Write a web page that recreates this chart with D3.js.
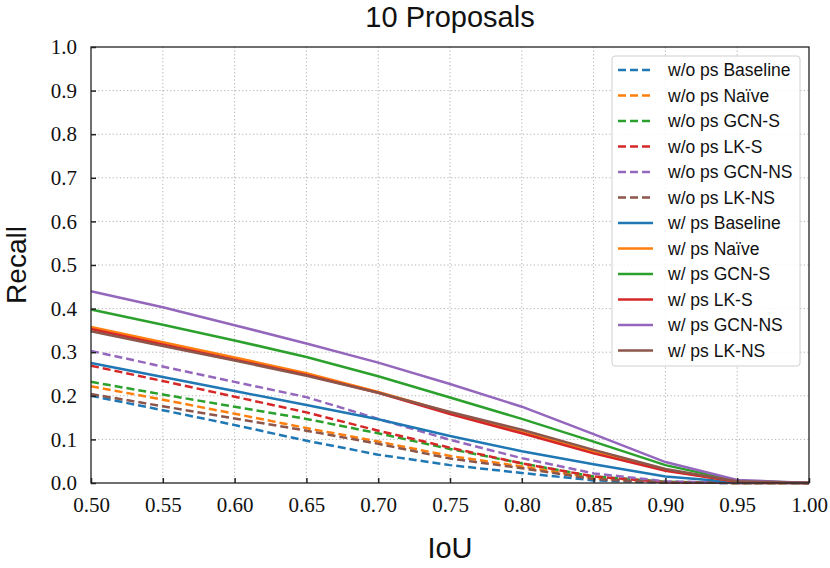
<!DOCTYPE html>
<html>
<head>
<meta charset="utf-8">
<script src="https://cdn.jsdelivr.net/npm/d3@7"></script>
<style>
  body { margin: 0; background: #fff; }
  svg { display: block; }
</style>
</head>
<body>
<div id="chart"></div>
<script>
// IoU thresholds
var iou = [0.50, 0.55, 0.60, 0.65, 0.70, 0.75, 0.80, 0.85, 0.90, 0.95, 1.00];

// recall without proposal scoring (dashed)
var woBaseline = [0.200, 0.167, 0.133, 0.097, 0.065, 0.041, 0.023, 0.006, 0.001, 0, 0];
var woNaive    = [0.222, 0.191, 0.159, 0.126, 0.095, 0.062, 0.038, 0.011, 0.002, 0, 0];
var woGcnS     = [0.232, 0.203, 0.175, 0.147, 0.114, 0.078, 0.045, 0.015, 0.003, 0, 0];
var woLkS      = [0.269, 0.234, 0.198, 0.162, 0.120, 0.081, 0.045, 0.015, 0.002, 0, 0];
var woGcnNS    = [0.303, 0.267, 0.232, 0.197, 0.147, 0.099, 0.057, 0.022, 0.004, 0, 0];
var woLkNS     = [0.204, 0.176, 0.148, 0.120, 0.090, 0.056, 0.034, 0.009, 0.001, 0, 0];

// recall with proposal scoring (solid)
var wBaseline = [0.275, 0.243, 0.211, 0.179, 0.146, 0.108, 0.073, 0.043, 0.015, 0.002, 0];
var wNaive    = [0.358, 0.323, 0.288, 0.252, 0.209, 0.162, 0.117, 0.072, 0.030, 0.003, 0];
var wGcnS     = [0.398, 0.363, 0.327, 0.289, 0.245, 0.196, 0.147, 0.095, 0.041, 0.005, 0];
var wLkS      = [0.353, 0.318, 0.283, 0.248, 0.207, 0.158, 0.114, 0.068, 0.028, 0.003, 0];
var wGcnNS    = [0.440, 0.403, 0.362, 0.320, 0.276, 0.227, 0.175, 0.112, 0.048, 0.007, 0];
var wLkNS     = [0.348, 0.314, 0.281, 0.246, 0.207, 0.163, 0.122, 0.076, 0.032, 0.004, 0];

var xTicks = [0.50, 0.55, 0.60, 0.65, 0.70, 0.75, 0.80, 0.85, 0.90, 0.95, 1.00];
var yTicks = [0.0, 0.1, 0.2, 0.3, 0.4, 0.5, 0.6, 0.7, 0.8, 0.9, 1.0];

var colors = ["#1f77b4", "#ff7f0e", "#2ca02c", "#d62728", "#9467bd", "#8c564b"];

var series = [
  {name: "w/o ps Baseline", values: woBaseline, color: colors[0], dashed: true},
  {name: "w/o ps Na\u00efve", values: woNaive, color: colors[1], dashed: true},
  {name: "w/o ps GCN-S", values: woGcnS, color: colors[2], dashed: true},
  {name: "w/o ps LK-S", values: woLkS, color: colors[3], dashed: true},
  {name: "w/o ps GCN-NS", values: woGcnNS, color: colors[4], dashed: true},
  {name: "w/o ps LK-NS", values: woLkNS, color: colors[5], dashed: true},
  {name: "w/ ps Baseline", values: wBaseline, color: colors[0], dashed: false},
  {name: "w/ ps Na\u00efve", values: wNaive, color: colors[1], dashed: false},
  {name: "w/ ps GCN-S", values: wGcnS, color: colors[2], dashed: false},
  {name: "w/ ps LK-S", values: wLkS, color: colors[3], dashed: false},
  {name: "w/ ps GCN-NS", values: wGcnNS, color: colors[4], dashed: false},
  {name: "w/ ps LK-NS", values: wLkNS, color: colors[5], dashed: false}
];

var margin = {top: 47, right: 21, bottom: 85, left: 91};
var width = 830 - margin.left - margin.right;
var height = 568 - margin.top - margin.bottom;

var serif = "'Liberation Serif', 'DejaVu Serif', serif";
var sans = "'Liberation Sans', Arial, sans-serif";

var svg = d3.select("#chart").append("svg")
  .attr("width", 830)
  .attr("height", 568);

var g = svg.append("g")
  .attr("transform", "translate(" + margin.left + "," + margin.top + ")");

var x = d3.scaleLinear().domain([0.5, 1.0]).range([0, width]);
var y = d3.scaleLinear().domain([0, 1]).range([height, 0]);

// grid
g.selectAll(".gx").data(xTicks.slice(1, -1)).enter().append("line")
  .attr("x1", function(d) { return x(d); })
  .attr("x2", function(d) { return x(d); })
  .attr("y1", 0).attr("y2", height)
  .style("stroke", "#b0b0b0").style("stroke-width", 1)
  .style("stroke-dasharray", "1.2,2.4");

g.selectAll(".gy").data(yTicks.slice(1, -1)).enter().append("line")
  .attr("y1", function(d) { return y(d); })
  .attr("y2", function(d) { return y(d); })
  .attr("x1", 0).attr("x2", width)
  .style("stroke", "#b0b0b0").style("stroke-width", 1)
  .style("stroke-dasharray", "1.2,2.4");

// lines
var line = d3.line()
  .x(function(d, i) { return x(iou[i]); })
  .y(function(d) { return y(d); });

g.selectAll(".series").data(series).enter().append("path")
  .attr("d", function(d) { return line(d.values); })
  .style("fill", "none")
  .style("stroke", function(d) { return d.color; })
  .style("stroke-width", 2.5)
  .style("stroke-dasharray", function(d) { return d.dashed ? "8,4" : null; });

// axes (ticks inward)
var xAxis = g.append("g")
  .attr("transform", "translate(0," + height + ")")
  .call(d3.axisBottom(x).tickValues(xTicks).tickFormat(d3.format(".2f"))
    .tickSizeInner(-5).tickSizeOuter(0).tickPadding(10));
xAxis.select(".domain").remove();
xAxis.selectAll("line").style("stroke", "#222").style("stroke-width", 1.5);
xAxis.selectAll("text").style("font-family", serif).style("font-size", "21px")
  .style("fill", "#111").attr("dy", "0.9em");

var yAxis = g.append("g")
  .call(d3.axisLeft(y).tickValues(yTicks).tickFormat(d3.format(".1f"))
    .tickSizeInner(-5).tickSizeOuter(0).tickPadding(14));
yAxis.select(".domain").remove();
yAxis.selectAll("line").style("stroke", "#222").style("stroke-width", 1.5);
yAxis.selectAll("text").style("font-family", serif).style("font-size", "21px")
  .style("fill", "#111");

// frame
g.append("rect")
  .attr("width", width).attr("height", height)
  .style("fill", "none").style("stroke", "#222").style("stroke-width", 1.3);

// legend
var legend = g.append("g").attr("transform", "translate(" + (612 - margin.left) + "," + (56 - margin.top) + ")");
legend.append("rect")
  .attr("width", 188).attr("height", 310).attr("rx", 3)
  .style("fill", "#fff").style("fill-opacity", 0.85)
  .style("stroke", "#d0d0d0").style("stroke-width", 1);

var rows = legend.selectAll(".row").data(series).enter().append("g")
  .attr("transform", function(d, i) { return "translate(0," + (14 + i * 25.5) + ")"; });
rows.append("line")
  .attr("x1", 6).attr("x2", 41)
  .style("stroke", function(d) { return d.color; })
  .style("stroke-width", 2.5)
  .style("stroke-dasharray", function(d) { return d.dashed ? "8,4" : null; });
rows.append("text")
  .attr("x", 56).attr("dy", "0.35em")
  .text(function(d) { return d.name; })
  .style("font-family", sans).style("font-size", "17.5px").style("fill", "#111");

// title and axis labels
svg.append("text")
  .attr("x", margin.left + width / 2).attr("y", 27)
  .attr("text-anchor", "middle")
  .text("10 Proposals")
  .style("font-family", sans).style("font-size", "29px").style("fill", "#111");

svg.append("text")
  .attr("transform", "translate(26," + (margin.top + height / 2) + ") rotate(-90)")
  .attr("text-anchor", "middle")
  .text("Recall")
  .style("font-family", sans).style("font-size", "28px").style("fill", "#111");

svg.append("text")
  .attr("x", margin.left + width / 2).attr("y", 558)
  .attr("text-anchor", "middle")
  .text("IoU")
  .style("font-family", sans).style("font-size", "29px").style("fill", "#111");
</script>
</body>
</html>
